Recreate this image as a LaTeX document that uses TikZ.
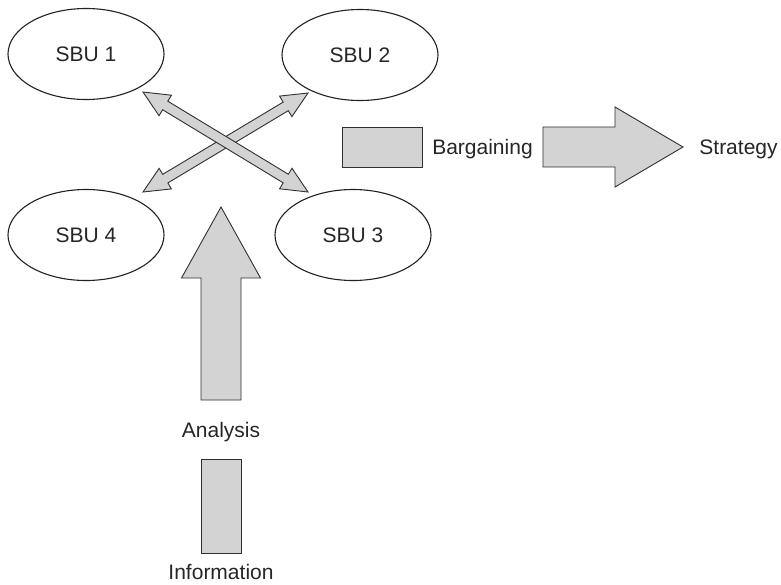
\documentclass[tikz,border=0pt]{standalone}
\usepackage{fontspec}
\setmainfont{Liberation Sans}
\usetikzlibrary{calc,shapes.geometric}
\definecolor{blockfill}{HTML}{D3D3D3}
\definecolor{blockedge}{HTML}{303030}
\definecolor{ovaledge}{HTML}{222222}
% double-headed block arrow between two named coordinates
\newcommand\blockdbl[2]{%
  \coordinate (hA) at ($(#1)!26pt!(#2)$);
  \coordinate (hB) at ($(#2)!26pt!(#1)$);
  \path[blockarrow] (#1)
    -- ($(hA)!12pt!90:(#2)$) -- ($(hA)!5pt!90:(#2)$)
    -- ($(hB)!5pt!-90:(#1)$) -- ($(hB)!12pt!-90:(#1)$)
    -- (#2)
    -- ($(hB)!12pt!90:(#1)$) -- ($(hB)!5pt!90:(#1)$)
    -- ($(hA)!5pt!-90:(#2)$) -- ($(hA)!12pt!-90:(#2)$)
    -- cycle;}
\begin{document}
\begin{tikzpicture}[x=1pt,y=-1pt,
  txt/.style={font=\fontsize{21}{25}\selectfont, text=black!85, inner sep=0pt},
  sbu/.style={ellipse, draw=ovaledge, line width=1.1pt, fill=white,
    minimum width=156pt, minimum height=91pt, inner sep=0pt,
    font=\fontsize{21}{25}\selectfont, text=black!85},
  blockarrow/.style={fill=blockfill, draw=blockedge, line width=0.9pt, line join=miter},
  blockbox/.style={rectangle, fill=blockfill, draw=blockedge, line width=0.9pt, inner sep=0pt}]
\useasboundingbox (0,0) rectangle (781,584);

% SBU ellipses
\node[sbu] (s1) at (86,54) {SBU 1};
\node[sbu] (s2) at (360,55) {SBU 2};
\node[sbu] (s4) at (86,235) {SBU 4};
\node[sbu] (s3) at (353,235) {SBU 3};

% double arrows between SBUs
\coordinate (t1) at (143,92);
\coordinate (t2) at (308,93);
\coordinate (t3) at (308,192);
\coordinate (t4) at (143,192);
\blockdbl{t4}{t2}
\blockdbl{t1}{t3}

% vertical arrow (Analysis)
\coordinate (vtip) at (221,207);
\path[blockarrow] (vtip) -- (260.5,278) -- (241,278) -- (241,400)
  -- (201,400) -- (201,278) -- (181.5,278) -- cycle;
\node[txt, anchor=base] (analysis) at (221,437) {Analysis};

% information box
\node[blockbox, minimum width=40pt, minimum height=94pt] (infobox) at (221,506) {};
\node[txt, anchor=base] (information) at (221,579) {Information};

% bargaining box
\node[blockbox, minimum width=80pt, minimum height=40pt] (bargbox) at (382,147) {};
\node[txt, anchor=base] (bargaining) at (482.5,154) {Bargaining};

% horizontal arrow (Strategy)
\coordinate (htip) at (683,147);
\path[blockarrow] (htip) -- (615,187) -- (615,167) -- (543,167)
  -- (543,127) -- (615,127) -- (615,107) -- cycle;
\node[txt, anchor=base] (strategy) at (738.5,154) {Strategy};
\end{tikzpicture}
\end{document}
